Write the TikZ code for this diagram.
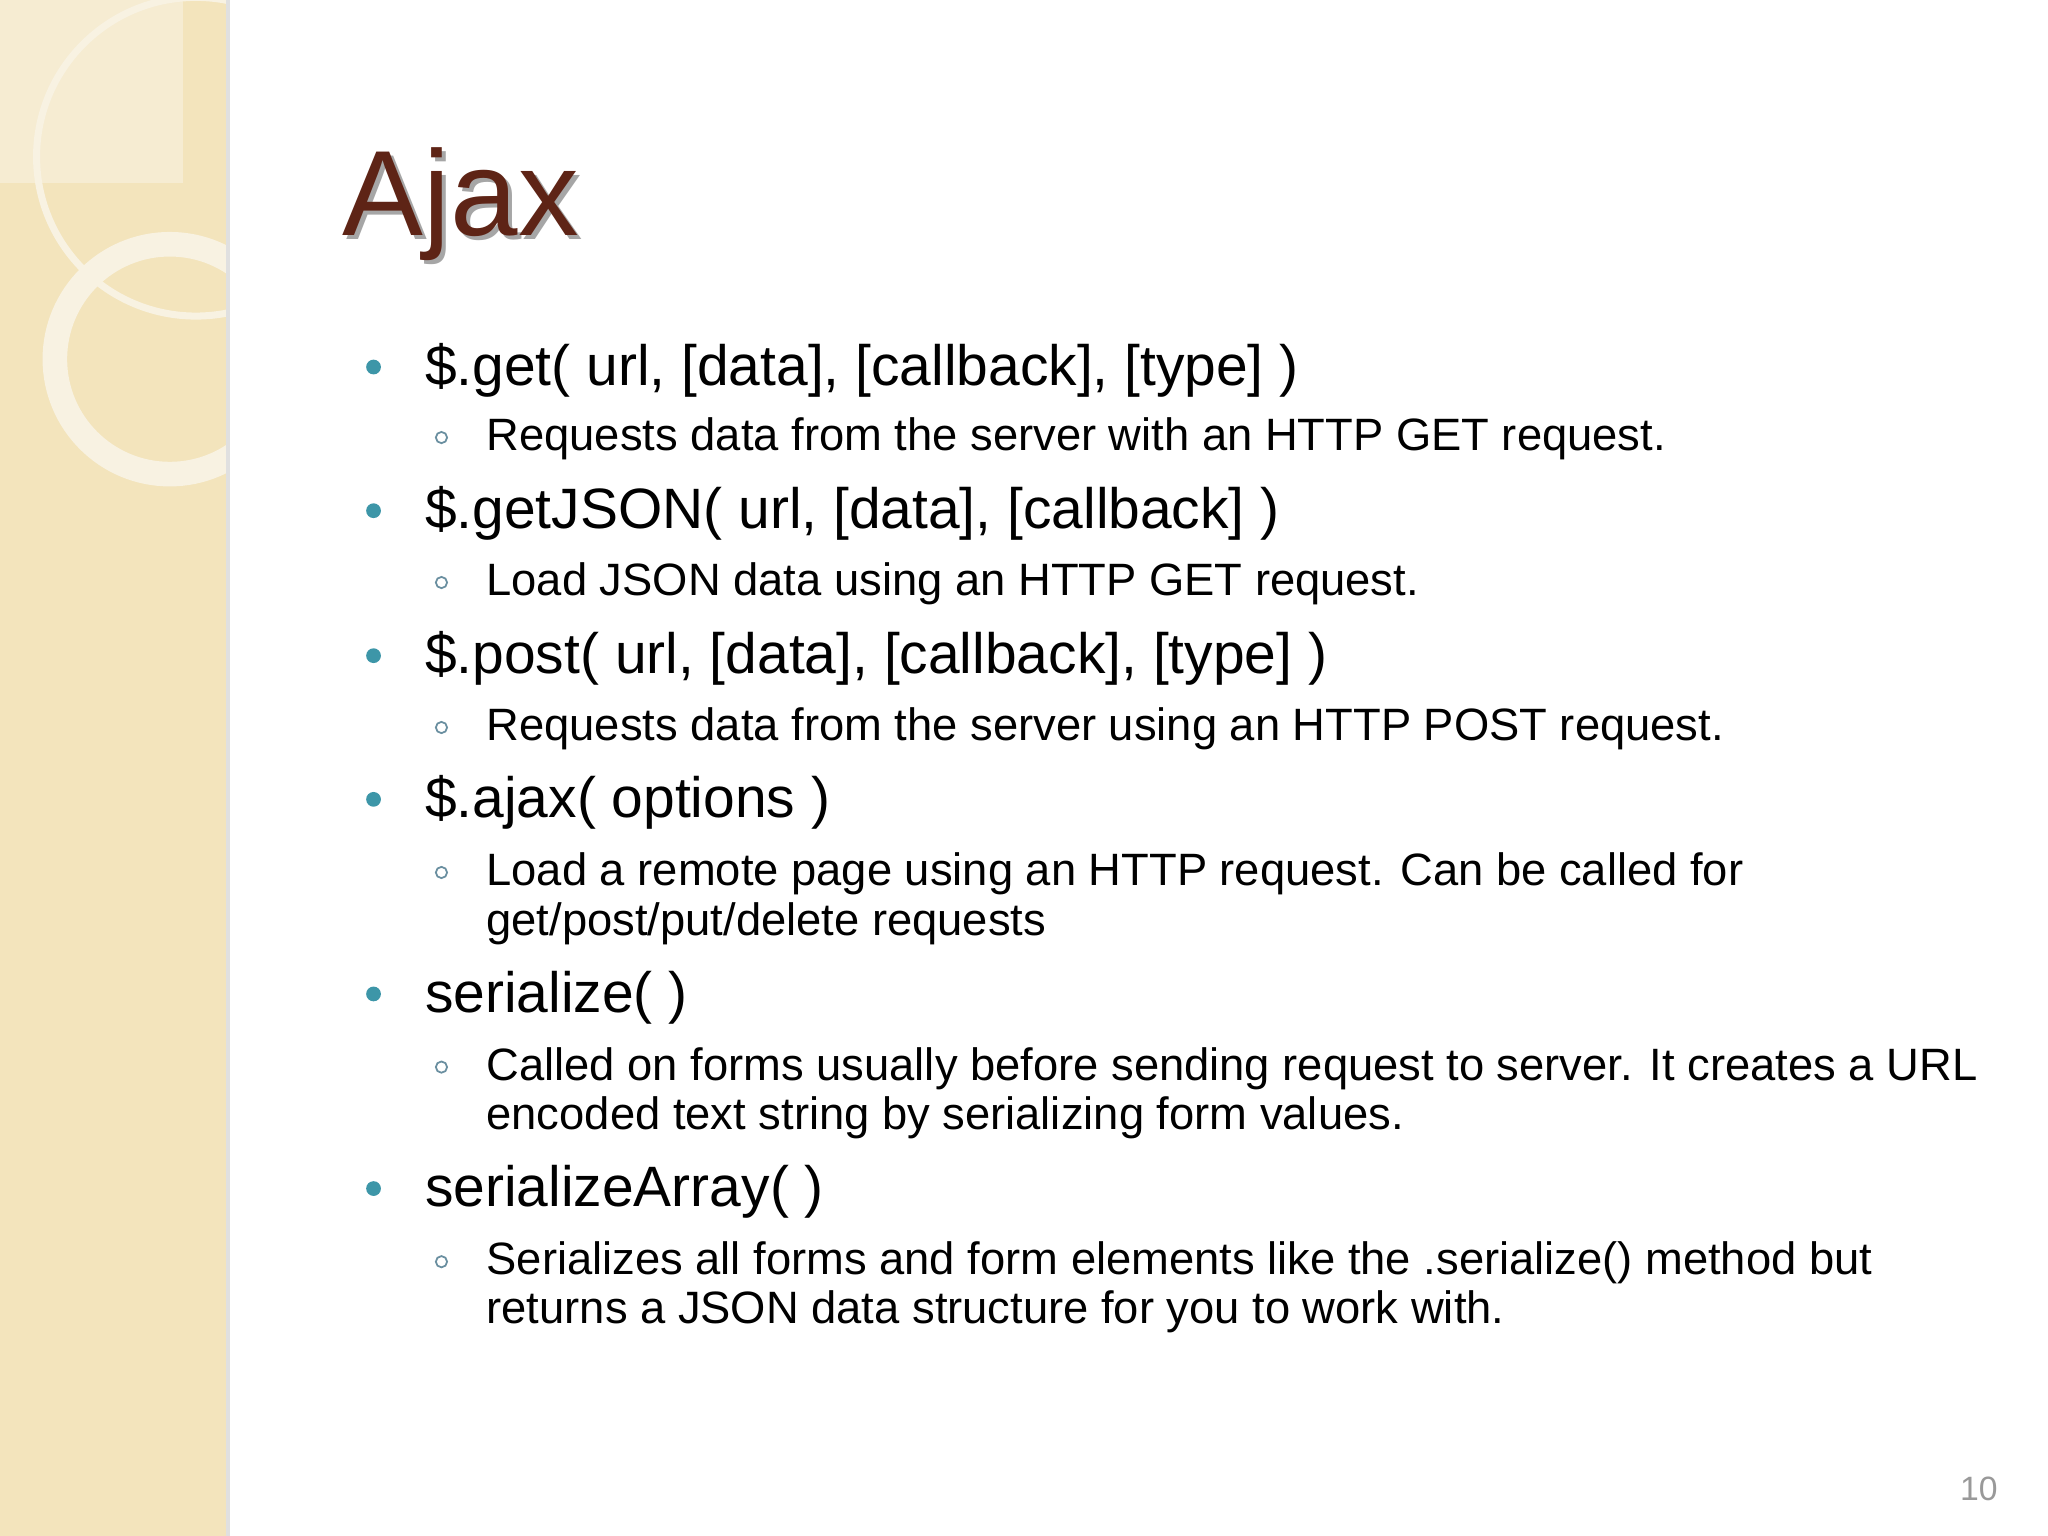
\documentclass[tikz,border=0pt]{standalone}
\usepackage{fontspec}
\setmainfont{Liberation Sans}
\definecolor{band}{HTML}{F3E4BC}
\definecolor{ringc}{HTML}{F8F2E2}
\definecolor{titlec}{HTML}{5E2416}
\definecolor{bulc}{HTML}{3D96A8}
\definecolor{subc}{HTML}{6A8FA0}
\begin{document}
\begin{tikzpicture}[x=0.01306cm,y=-0.01306cm,
  main/.style={anchor=base west,inner sep=0pt,font=\fontsize{16.2}{19}\selectfont},
  sub/.style={anchor=base west,inner sep=0pt,font=\fontsize{12.9}{15}\selectfont},
  odot/.style={circle,draw=subc,line width=0.5pt,inner sep=0pt,minimum size=3.2pt}]
\useasboundingbox (0,0) rectangle (1568,1176);
\fill[white] (0,0) rectangle (1568,1176);
\fill[band] (0,0) rectangle (173,1176);
\fill[black!12] (173,0) rectangle (176,1176);
\begin{scope}
\clip (0,0) rectangle (173,1176);
\fill[ringc,opacity=0.6] (0,0) rectangle (140,140);
\draw[ringc,line width=2pt] (150,120) circle (122);
\draw[ringc,line width=7pt] (130,275) circle (88);
\end{scope}
\node[anchor=base west,inner sep=0pt,text=black!35,font=\fontsize{34.5}{38}\selectfont] at (265,183) {Ajax};
\node (title) [anchor=base west,inner sep=0pt,text=titlec,font=\fontsize{34.5}{38}\selectfont] at (262,180) {Ajax};
\foreach \y/\t [count=\i] in {295/{\$.get( url, [data], [callback], [type] )},405/{\$.getJSON( url, [data], [callback] )},516/{\$.post( url, [data], [callback], [type] )},626/{\$.ajax( options )},775/{serialize( )},924/{serializeArray( )}}{
  \node (m\i) [main] at (325,\y) {\t};
  \node (b\i) [circle,fill=bulc,inner sep=0pt,minimum size=4.2pt] at (286,\y-14) {};
}
\foreach \y/\t [count=\i] in {345/{Requests data from the server with an HTTP GET request.},456/{Load JSON data using an HTTP GET request.},567/{Requests data from the server using an HTTP POST request.},678/{Load a remote page using an HTTP request. Can be called for},827/{Called on forms usually before sending request to server. It creates a URL},976/{Serializes all forms and form elements like the .serialize() method but}}{
  \node (s\i) [sub] at (372,\y) {\t};
  \node (o\i) [odot] at (338,\y-10) {};
}
\node (s4b) [sub] at (372,716) {get/post/put/delete requests};
\node (s5b) [sub] at (372,865) {encoded text string by serializing form values.};
\node (s6b) [sub] at (372,1013) {returns a JSON data structure for you to work with.};
\node (pg) [anchor=base east,inner sep=0pt,text=black!40,font=\fontsize{9.6}{11}\selectfont] at (1530,1149) {10};
\end{tikzpicture}
\end{document}
